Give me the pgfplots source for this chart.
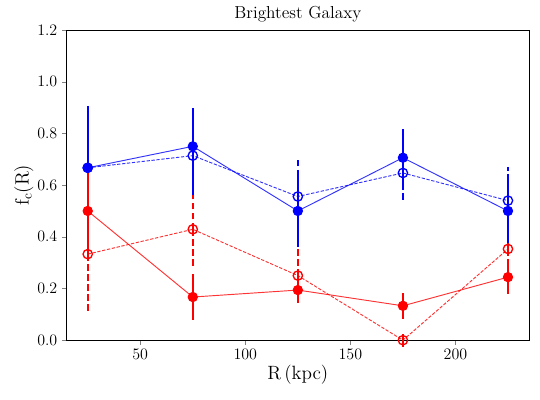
\documentclass[border=0pt]{standalone}
\usepackage{pgfplots}
\pgfplotsset{compat=1.18}
\usepackage{pgfplotstable}

\pgfplotstableread{
x   y     ep    em
25  0.667 0.24  0.23
75  0.750 0.15  0.19
125 0.500 0.14  0.14
175 0.706 0.11  0.11
225 0.500 0.125 0.125
}\bluefilled
\pgfplotstableread{
x   y     ep    em
25  0.667 0.24  0.24
75  0.714 0.15  0.15
125 0.556 0.15  0.15
175 0.647 0.11  0.11
225 0.540 0.13  0.13
}\blueopen
\pgfplotstableread{
x   y     ep    em
25  0.500 0.16  0.16
75  0.167 0.09  0.09
125 0.194 0.06  0.05
175 0.133 0.05  0.05
225 0.244 0.07  0.065
}\redfilled
\pgfplotstableread{
x   y     ep    em
25  0.333 0.23  0.23
75  0.429 0.15  0.15
125 0.250 0.11  0.11
175 0.000 0.03  0.03
225 0.353 0.06  0.06
}\redopen

\begin{document}
\begin{tikzpicture}
\begin{axis}[
  scale only axis,
  width=346.5pt, height=232.5pt,
  xmin=15, xmax=235,
  ymin=0, ymax=1.2,
  xtick={50,100,150,200},
  ytick={0,0.2,0.4,0.6,0.8,1.0,1.2},
  yticklabel style={/pgf/number format/.cd,fixed,fixed zerofill,precision=1},
  tick align=outside,
  xtick pos=bottom, ytick pos=left,
  major tick length=3.5pt,
  tick label style={font=\fontsize{12.5}{14}\selectfont},
  title={Brightest Galaxy},
  title style={font=\fontsize{13}{15}\selectfont, yshift=-3.5pt},
  xlabel={$\mathrm{R\,(kpc)}$},
  ylabel={$\mathrm{f_c(R)}$},
  label style={font=\fontsize{14}{16}\selectfont},
  xlabel style={yshift=3pt},
  ylabel style={yshift=-4pt},
  clip=false,
  error bars/y dir=both,
  error bars/y explicit,
  error bars/error mark=none,
]
\addplot[blue, draw opacity=0.8, line width=0.7pt, dash pattern=on 2.5pt off 1.2pt,
  mark=o, mark size=3.5pt, mark options={solid, draw opacity=1, line width=1pt, fill=none},
  error bars/error bar style={draw opacity=1, line width=1.5pt, dash pattern=on 5pt off 2.5pt}]
  table[x=x, y=y, y error plus=ep, y error minus=em] {\blueopen};
\addplot[red, draw opacity=0.8, line width=0.7pt, dash pattern=on 2.5pt off 1.2pt,
  mark=o, mark size=3.5pt, mark options={solid, draw opacity=1, line width=1pt, fill=none},
  error bars/error bar style={draw opacity=1, line width=1.5pt, dash pattern=on 5pt off 2.5pt}]
  table[x=x, y=y, y error plus=ep, y error minus=em] {\redopen};
\addplot[blue, draw opacity=0.8, line width=0.7pt,
  mark=*, mark size=3.5pt, mark options={solid, draw opacity=1, fill=blue},
  error bars/error bar style={draw opacity=1, line width=1.5pt, solid}]
  table[x=x, y=y, y error plus=ep, y error minus=em] {\bluefilled};
\addplot[red, draw opacity=0.8, line width=0.7pt,
  mark=*, mark size=3.5pt, mark options={solid, draw opacity=1, fill=red},
  error bars/error bar style={draw opacity=1, line width=1.5pt, solid}]
  table[x=x, y=y, y error plus=ep, y error minus=em] {\redfilled};
\end{axis}
\pgfresetboundingbox
\path (current axis.south west) ++(-50pt,-44.25pt) rectangle ([xshift=8.25pt,yshift=22.5pt]current axis.north east);
\end{tikzpicture}
\end{document}
